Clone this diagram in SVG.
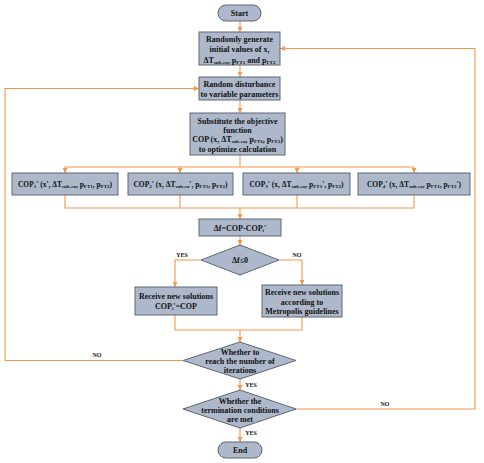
<svg xmlns="http://www.w3.org/2000/svg" width="484" height="463" viewBox="0 0 484 463">
<defs>
<style>
.box{fill:#adb9ca;stroke:#5f6672;stroke-width:1}
.t{font-family:"Liberation Serif","Times New Roman",serif;font-weight:bold;font-size:8px;fill:#111;text-anchor:middle}
.s{font-size:7.5px}
.lbl{font-family:"Liberation Serif","Times New Roman",serif;font-weight:bold;font-size:6px;fill:#111;text-anchor:middle}
.sub{font-size:5px}
.c{fill:none;stroke:#f79646;stroke-width:1.1}
</style>
<marker id="ah" viewBox="0 0 10 10" refX="10" refY="5" markerWidth="5" markerHeight="5" orient="auto" markerUnits="userSpaceOnUse">
<path d="M0,0 L10,5 L0,10 z" fill="#f79646"/>
</marker>
</defs>
<rect width="484" height="463" fill="#fff"/>

<g id="connectors">
<path class="c" d="M240,21 V32" marker-end="url(#ah)"/>
<path class="c" d="M240,65 V77" marker-end="url(#ah)"/>
<path class="c" d="M240,100 V113" marker-end="url(#ah)"/>
<path class="c" d="M240,155 V167 M65,167 H414"/>
<path class="c" d="M65,167 V173" marker-end="url(#ah)"/>
<path class="c" d="M180,167 V173" marker-end="url(#ah)"/>
<path class="c" d="M297,167 V173" marker-end="url(#ah)"/>
<path class="c" d="M414,167 V173" marker-end="url(#ah)"/>
<path class="c" d="M65,195 V208 H414 V195 M180,195 V208 M297,195 V208"/>
<path class="c" d="M240,208 V219" marker-end="url(#ah)"/>
<path class="c" d="M240,236 V245" marker-end="url(#ah)"/>
<path class="c" d="M201,260 H175 V287" marker-end="url(#ah)"/>
<path class="c" d="M279,260 H302 V285" marker-end="url(#ah)"/>
<path class="c" d="M175,315 V330 H302 V317"/>
<path class="c" d="M240,330 V342" marker-end="url(#ah)"/>
<path class="c" d="M183,360.5 H5 V88.5 H199" marker-end="url(#ah)"/>
<path class="c" d="M240,379 V390" marker-end="url(#ah)"/>
<path class="c" d="M296,409 H475 V48.5 H280" marker-end="url(#ah)"/>
<path class="c" d="M240,428 V442" marker-end="url(#ah)"/>
<text class="lbl" x="182" y="257">YES</text>
<text class="lbl" x="297" y="257">NO</text>
<text class="lbl" x="97" y="357">NO</text>
<text class="lbl" x="251" y="387">YES</text>
<text class="lbl" x="385" y="406">NO</text>
<text class="lbl" x="251" y="435">YES</text>
</g>

<g id="start">
<rect class="box" x="218" y="5" width="43" height="16" rx="8"/>
<text class="t" x="239.5" y="16">Start</text>
</g>

<g id="init">
<rect class="box" x="199" y="32" width="81" height="33"/>
<text class="t" x="239.5" y="41.5">Randomly generate</text>
<text class="t" x="239.5" y="52">initial values of x,</text>
<text class="t" x="239.5" y="62.5">ΔT<tspan class="sub" dy="1">sub-co</tspan><tspan dy="-1">, p</tspan><tspan class="sub" dy="1">FT1</tspan><tspan dy="-1"> and p</tspan><tspan class="sub" dy="1">FT2</tspan></text>
</g>

<g id="disturb">
<rect class="box" x="199" y="77" width="81" height="23"/>
<text class="t" x="239.5" y="87">Random disturbance</text>
<text class="t" x="239.5" y="97">to variable parameters</text>
</g>

<g id="substitute">
<rect class="box" x="190" y="113" width="95" height="42"/>
<text class="t" x="237.5" y="124">Substitute the objective</text>
<text class="t" x="237.5" y="133">function</text>
<text class="t" x="237.5" y="142">COP (x, ΔT<tspan class="sub" dy="1">sub-co</tspan><tspan dy="-1">, p</tspan><tspan class="sub" dy="1">FT1</tspan><tspan dy="-1">, p</tspan><tspan class="sub" dy="1">FT2</tspan><tspan dy="-1">)</tspan></text>
<text class="t" x="237.5" y="151.5">to optimize calculation</text>
</g>

<g id="cop1">
<rect class="box" x="12" y="173" width="106" height="22"/>
<text class="t s" x="65" y="187">COP<tspan class="sub" dy="1">1</tspan><tspan dy="-1">' (x', ΔT</tspan><tspan class="sub" dy="1">sub-co</tspan><tspan dy="-1">, p</tspan><tspan class="sub" dy="1">FT1</tspan><tspan dy="-1">, p</tspan><tspan class="sub" dy="1">FT2</tspan><tspan dy="-1">)</tspan></text>
</g>

<g id="cop2">
<rect class="box" x="128" y="173" width="105" height="22"/>
<text class="t s" x="180.5" y="187">COP<tspan class="sub" dy="1">2</tspan><tspan dy="-1">' (x, ΔT</tspan><tspan class="sub" dy="1">sub-co</tspan><tspan dy="-1">', p</tspan><tspan class="sub" dy="1">FT1</tspan><tspan dy="-1">, p</tspan><tspan class="sub" dy="1">FT2</tspan><tspan dy="-1">)</tspan></text>
</g>

<g id="cop3">
<rect class="box" x="243" y="173" width="107" height="22"/>
<text class="t s" x="296.5" y="187">COP<tspan class="sub" dy="1">3</tspan><tspan dy="-1">' (x, ΔT</tspan><tspan class="sub" dy="1">sub-co</tspan><tspan dy="-1">, p</tspan><tspan class="sub" dy="1">FT1</tspan><tspan dy="-1">', p</tspan><tspan class="sub" dy="1">FT2</tspan><tspan dy="-1">)</tspan></text>
</g>

<g id="cop4">
<rect class="box" x="358" y="173" width="112" height="22"/>
<text class="t s" x="414" y="187">COP<tspan class="sub" dy="1">4</tspan><tspan dy="-1">' (x, ΔT</tspan><tspan class="sub" dy="1">sub-co</tspan><tspan dy="-1">, p</tspan><tspan class="sub" dy="1">FT1</tspan><tspan dy="-1">, p</tspan><tspan class="sub" dy="1">FT2</tspan><tspan dy="-1">')</tspan></text>
</g>

<g id="deltaf">
<rect class="box" x="199" y="219" width="82" height="17"/>
<text class="t" x="240" y="230.5">Δf=COP-COP<tspan class="sub" dy="1">i</tspan><tspan dy="-1">'</tspan></text>
</g>

<g id="check">
<polygon class="box" points="240,245 279,260 240,275 201,260"/>
<text class="t" x="240" y="263">Δf≤0</text>
</g>

<g id="accept">
<rect class="box" x="135" y="287" width="82" height="28"/>
<text class="t" x="176" y="298.5">Receive new solutions</text>
<text class="t" x="176" y="308.5">COP<tspan class="sub" dy="1">i</tspan><tspan dy="-1">'=COP</tspan></text>
</g>

<g id="metropolis">
<rect class="box" x="262" y="285" width="80" height="32"/>
<text class="t" x="302" y="295">Receive new solutions</text>
<text class="t" x="302" y="304.5">according to</text>
<text class="t" x="302" y="314">Metropolis guidelines</text>
</g>

<g id="iterations">
<polygon class="box" points="240,342 296,360.5 240,379 183,360.5"/>
<text class="t" x="240" y="354.5">Whether to</text>
<text class="t" x="240" y="364">reach the number of</text>
<text class="t" x="240" y="372.5">iterations</text>
</g>

<g id="termination">
<polygon class="box" points="240,390 296,409 240,428 183,409"/>
<text class="t" x="240" y="403.5">Whether the</text>
<text class="t" x="240" y="413">termination conditions</text>
<text class="t" x="240" y="422">are met</text>
</g>

<g id="end">
<rect class="box" x="218" y="442" width="44" height="16" rx="8"/>
<text class="t" x="240" y="453">End</text>
</g>
</svg>
